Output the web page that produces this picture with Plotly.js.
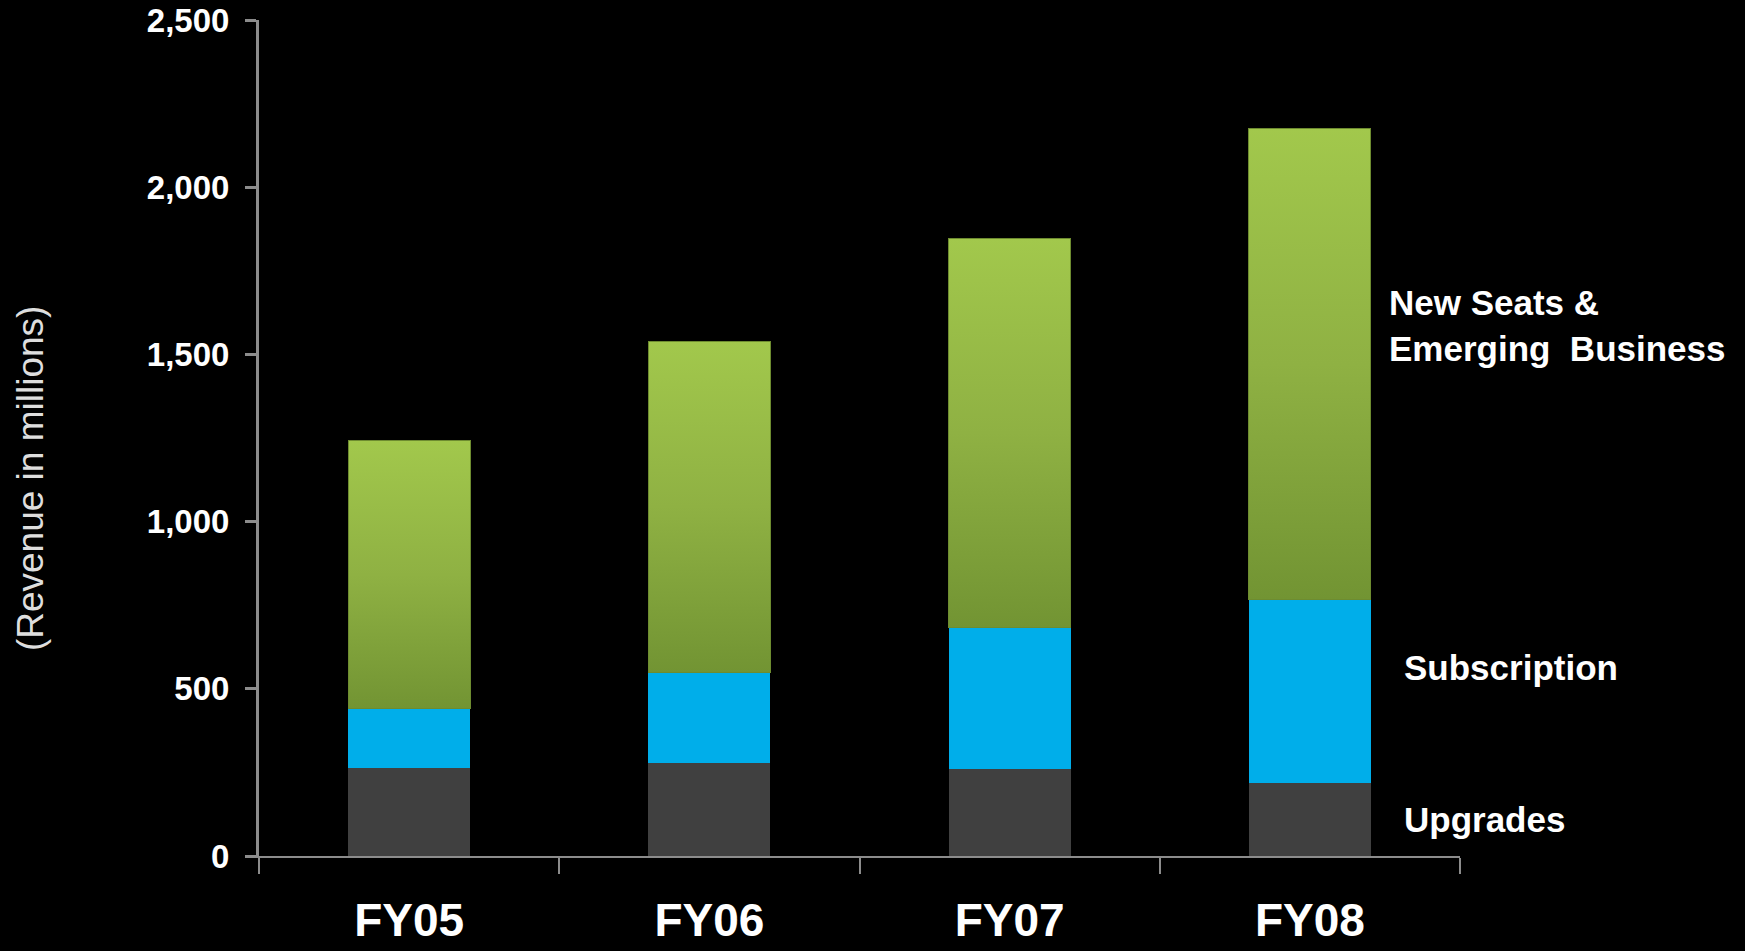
<!DOCTYPE html>
<html>
<head>
<meta charset="utf-8">
<script src="https://cdn.plot.ly/plotly-3.0.1.min.js"></script>
<style>
  html, body { margin: 0; padding: 0; background: #000; }
  #chart { width: 1745px; height: 951px; }
</style>
</head>
<body>
<div id="chart"></div>
<script>
const categories = ["FY05", "FY06", "FY07", "FY08"];
const upgrades = [263, 277, 260, 217];
const subscription = [177, 273, 423, 550];
const newSeats = [803, 990, 1164, 1410];
const seriesNames = ["Upgrades", "Subscription", "New Seats &<br>Emerging  Business"];
const yTickValues = [0, 500, 1000, 1500, 2000, 2500];
const yTitle = "(Revenue in millions)";

const labelFont = { family: "'Liberation Sans', Arial, sans-serif", size: 35, color: "#ffffff", weight: "bold" };

const traces = [
  { type: "bar", name: seriesNames[0], x: categories, y: upgrades,
    marker: { color: "#404040", line: { width: 0 } }, hoverinfo: "x+y+name" },
  { type: "bar", name: seriesNames[1], x: categories, y: subscription,
    marker: { color: "#00aeea", line: { width: 0 } }, hoverinfo: "x+y+name" },
  { type: "bar", name: "New Seats & Emerging Business", x: categories, y: newSeats,
    marker: { color: "#8cae42", line: { width: 1, color: "#6e8c30" } }, hoverinfo: "x+y+name" }
];

const layout = {
  width: 1745, height: 951,
  paper_bgcolor: "#000000", plot_bgcolor: "#000000",
  margin: { l: 259, r: 285, t: 20, b: 95 },
  barmode: "stack",
  bargap: 0.593,
  showlegend: false,
  xaxis: {
    type: "category",
    showgrid: false, zeroline: false,
    showline: true, linecolor: "#8c8c8c", linewidth: 2,
    ticks: "outside", ticklen: 16, tickwidth: 2, tickcolor: "#8c8c8c",
    tickson: "boundaries",
    ticklabelstandoff: 23,
    tickfont: { family: "'Liberation Sans', Arial, sans-serif", size: 46, color: "#ffffff", weight: "bold" }
  },
  yaxis: {
    range: [0, 2500],
    tickvals: yTickValues,
    tickformat: ",d",
    showgrid: false, zeroline: false,
    showline: true, linecolor: "#8c8c8c", linewidth: 3,
    ticks: "outside", ticklen: 11, tickwidth: 3, tickcolor: "#8c8c8c",
    ticklabelstandoff: 9,
    tickfont: { family: "'Liberation Sans', Arial, sans-serif", size: 33, color: "#ffffff", weight: "bold" }
  },
  annotations: [
    { xref: "paper", yref: "paper", x: -0.1907, y: 0.452, xanchor: "center", yanchor: "middle",
      textangle: -90, text: yTitle, showarrow: false,
      font: { family: "'Liberation Sans', Arial, sans-serif", size: 37, color: "#dedede" } },
    { xref: "paper", yref: "y", x: 0.939, y: 1586, xanchor: "left", yanchor: "middle", align: "left",
      text: seriesNames[2], showarrow: false, font: labelFont },
    { xref: "paper", yref: "y", x: 0.952, y: 563, xanchor: "left", yanchor: "middle", align: "left",
      text: seriesNames[1], showarrow: false, font: labelFont },
    { xref: "paper", yref: "y", x: 0.952, y: 108, xanchor: "left", yanchor: "middle", align: "left",
      text: seriesNames[0], showarrow: false, font: labelFont }
  ]
};

Plotly.newPlot("chart", traces, layout, { displayModeBar: false, staticPlot: true }).then(function (gd) {
  const svgNS = "http://www.w3.org/2000/svg";
  const svg = gd.querySelector("svg.main-svg");
  let defs = svg.querySelector("defs");
  if (!defs) { defs = document.createElementNS(svgNS, "defs"); svg.insertBefore(defs, svg.firstChild); }
  const grad = document.createElementNS(svgNS, "linearGradient");
  grad.setAttribute("id", "greenGrad");
  grad.setAttribute("x1", "0"); grad.setAttribute("y1", "0");
  grad.setAttribute("x2", "0"); grad.setAttribute("y2", "1");
  [["0%", "#a2c84c"], ["50%", "#8fb143"], ["100%", "#729433"]].forEach(function (s) {
    const stop = document.createElementNS(svgNS, "stop");
    stop.setAttribute("offset", s[0]);
    stop.setAttribute("stop-color", s[1]);
    grad.appendChild(stop);
  });
  defs.appendChild(grad);
  const barTraces = gd.querySelectorAll(".barlayer .trace");
  if (barTraces.length >= 3) {
    barTraces[2].querySelectorAll("path").forEach(function (p) {
      p.style.fill = "url(#greenGrad)";
    });
  }
});
</script>
</body>
</html>
